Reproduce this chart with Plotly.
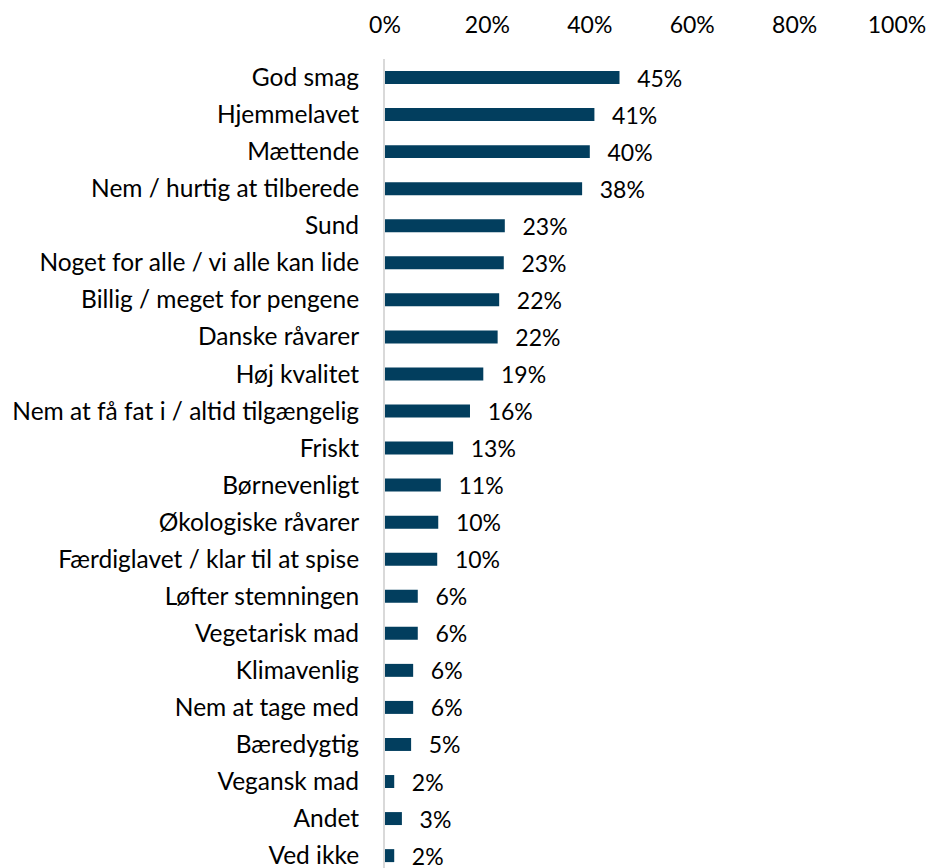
import plotly.graph_objects as go

# Kategorier (top -> bund)
kategorier = [
    "God smag",
    "Hjemmelavet",
    "Mættende",
    "Nem / hurtig at tilberede",
    "Sund",
    "Noget for alle / vi alle kan lide",
    "Billig / meget for pengene",
    "Danske råvarer",
    "Høj kvalitet",
    "Nem at få fat i / altid tilgængelig",
    "Friskt",
    "Børnevenligt",
    "Økologiske råvarer",
    "Færdiglavet / klar til at spise",
    "Løfter stemningen",
    "Vegetarisk mad",
    "Klimavenlig",
    "Nem at tage med",
    "Bæredygtig",
    "Vegansk mad",
    "Andet",
    "Ved ikke",
]

# Andele
andele = [
    0.458, 0.409, 0.400, 0.385, 0.234, 0.232, 0.223, 0.220, 0.192, 0.166, 0.133,
    0.109, 0.104, 0.102, 0.064, 0.064, 0.055, 0.055, 0.051, 0.018, 0.033, 0.018,
]

# Viste dataetiketter
etiketter = [
    "45%", "41%", "40%", "38%", "23%", "23%", "22%", "22%", "19%", "16%", "13%",
    "11%", "10%", "10%", "6%", "6%", "6%", "6%", "5%", "2%", "3%", "2%",
]

x_ticks = [0, 0.2, 0.4, 0.6, 0.8, 1.0]

FONT = "Lato, Liberation Sans, Arial, sans-serif"

fig = go.Figure(
    go.Bar(
        x=andele,
        y=kategorier,
        orientation="h",
        marker_color="#023E5E",
        marker_line=dict(color="#023E5E", width=0),
        text=["\u00a0\u00a0\u2009" + t for t in etiketter],
        textposition="outside",
        constraintext="none",
        cliponaxis=False,
        textfont=dict(family=FONT, size=23, color="#000000"),
    )
)

n = len(kategorier)
fig.update_layout(
    width=936,
    height=868,
    plot_bgcolor="white",
    paper_bgcolor="white",
    font=dict(family=FONT, size=24, color="#000000"),
    # siden har 8px body-margin, så plotområdet forskydes tilsvarende
    margin=dict(l=377, r=47, t=51, b=0, autoexpand=False),
    bargap=0.65,
    showlegend=False,
    xaxis=dict(
        side="top",
        range=[0, 1],
        tickvals=x_ticks,
        tickformat=".0%",
        tickfont=dict(size=23),
        showgrid=False,
        zeroline=False,
        showline=False,
        ticks="",
        ticklabelstandoff=20,
        automargin=False,
    ),
    yaxis=dict(
        categoryorder="array",
        categoryarray=kategorier,
        range=[n - 0.45, -0.5],
        tickfont=dict(size=24.5),
        showgrid=False,
        showline=True,
        linecolor="#D9D9D9",
        linewidth=2,
        ticks="",
        ticklabelstandoff=19,
        automargin=False,
    ),
)

fig.write_html("out.html")
